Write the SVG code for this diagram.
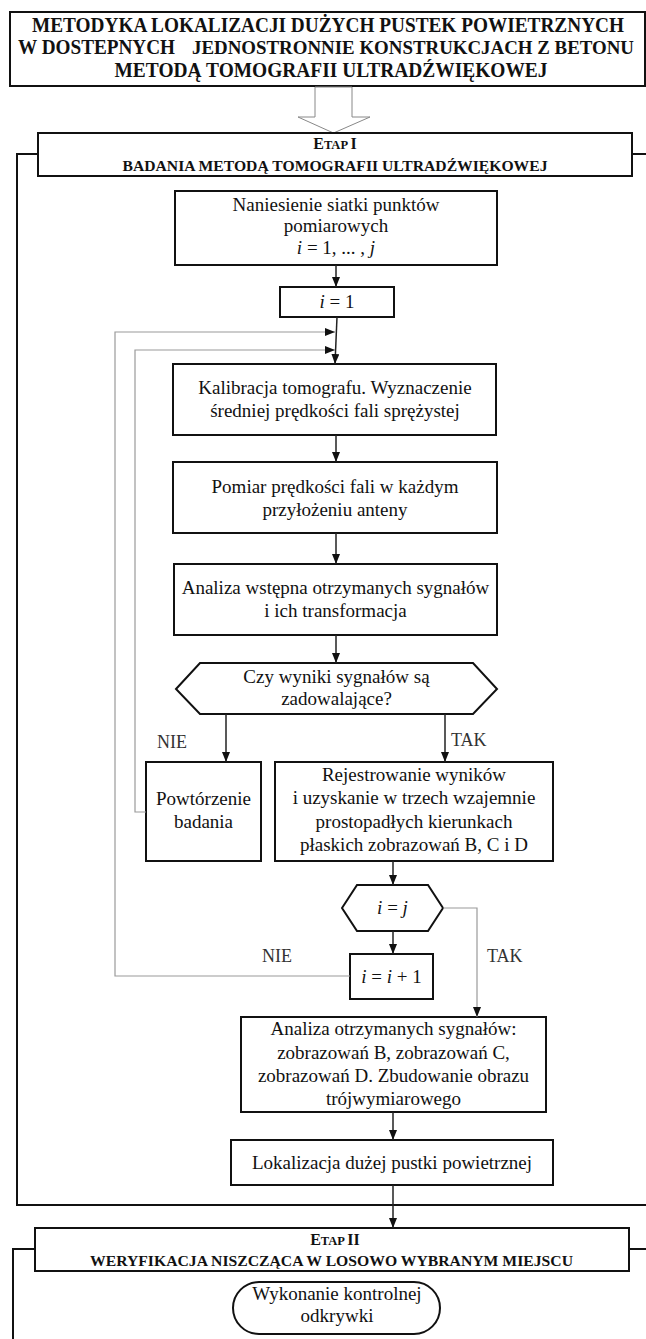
<svg xmlns="http://www.w3.org/2000/svg" width="646" height="1339" viewBox="0 0 646 1339">
<style>
.box{fill:#fff;stroke:#111;stroke-width:2}
.frame{fill:none;stroke:#111;stroke-width:2}
.t{font-family:"Liberation Serif","Times New Roman",serif;font-size:19px;fill:#111;text-anchor:middle}
.h{font-family:"Liberation Serif","Times New Roman",serif;font-weight:bold;fill:#111;text-anchor:middle}
.hs{font-family:"Liberation Serif","Times New Roman",serif;font-weight:bold;fill:#111;text-anchor:start}
.lab{font-family:"Liberation Serif","Times New Roman",serif;font-size:18px;fill:#333;text-anchor:start}
.c{fill:none;stroke:#222;stroke-width:1.5}
.g{fill:none;stroke:#9a9a9a;stroke-width:1.2}
.it{font-style:italic}
</style>
<defs>
<marker id="arr" markerUnits="userSpaceOnUse" markerWidth="10" markerHeight="8" refX="10" refY="4" orient="auto">
<path d="M0,0 L10,4 L0,8 z" fill="#111"/>
</marker>
</defs>
<rect width="646" height="1339" fill="#fff"/>

<g id="frames">
<path class="frame" d="M38,154 H17 V1205 H648"/>
<path class="frame" d="M632,154 H648"/>
<path class="frame" d="M35,1249 H13 V1341"/>
<path class="frame" d="M629,1249 H648"/>
</g>

<g id="title">
<rect class="box" x="10" y="12" width="635" height="74"/>
<text class="h" x="328" y="32" font-size="20" textLength="592" lengthAdjust="spacingAndGlyphs">METODYKA LOKALIZACJI DUŻYCH PUSTEK POWIETRZNYCH</text>
<text class="hs" x="18" y="54" font-size="20" textLength="157" lengthAdjust="spacingAndGlyphs">W DOSTEPNYCH</text>
<text class="hs" x="192" y="54" font-size="18.8" textLength="442" lengthAdjust="spacingAndGlyphs">JEDNOSTRONNIE KONSTRUKCJACH Z BETONU</text>
<text class="h" x="331" y="77" font-size="20" textLength="433" lengthAdjust="spacingAndGlyphs">METODĄ TOMOGRAFII ULTRADŹWIĘKOWEJ</text>
</g>

<g id="hollow-arrow">
<polygon points="315,87 315,117 298,117 333.5,133 370,117 352,117 352,87" fill="#fff" stroke="#888" stroke-width="1"/>
</g>

<g id="etap1">
<rect class="box" x="38" y="133" width="594" height="43"/>
<text class="h" x="335" y="149"><tspan font-size="16">E</tspan><tspan font-size="12.5">TAP </tspan><tspan font-size="16">I</tspan></text>
<text class="h" x="335" y="171" font-size="14" textLength="425" lengthAdjust="spacingAndGlyphs">BADANIA METODĄ TOMOGRAFII ULTRADŹWIĘKOWEJ</text>
</g>

<g id="naniesienie">
<rect class="box" x="175" y="191" width="322" height="74"/>
<text class="t" x="336" y="211">Naniesienie siatki punktów</text>
<text class="t" x="336" y="232">pomiarowych</text>
<text class="t" x="336" y="254"><tspan class="it">i</tspan> = 1, ... , <tspan class="it">j</tspan></text>
</g>

<g id="i1">
<rect class="box" x="280" y="287" width="114" height="30"/>
<text class="t" x="337" y="308"><tspan class="it">i</tspan> = 1</text>
</g>

<g id="kalibracja">
<rect class="box" x="173" y="364" width="323" height="71"/>
<text class="t" x="335" y="394">Kalibracja tomografu. Wyznaczenie</text>
<text class="t" x="335" y="417">średniej prędkości fali sprężystej</text>
</g>

<g id="pomiar">
<rect class="box" x="173" y="462" width="324" height="71"/>
<text class="t" x="335" y="493">Pomiar prędkości fali w każdym</text>
<text class="t" x="335" y="516">przyłożeniu anteny</text>
</g>

<g id="analiza-wstepna">
<rect class="box" x="174" y="564" width="323" height="71"/>
<text class="t" x="335.5" y="594">Analiza wstępna otrzymanych sygnałów</text>
<text class="t" x="335.5" y="617">i ich transformacja</text>
</g>

<g id="czy-wyniki">
<polygon class="box" points="176,689 200,663 473,663 497,689 473,714 200,714"/>
<text class="t" x="336.5" y="683">Czy wyniki sygnałów są</text>
<text class="t" x="336.5" y="705">zadowalające?</text>
</g>

<g id="powtorzenie">
<rect class="box" x="146" y="762" width="115" height="99"/>
<text class="t" x="203.5" y="805">Powtórzenie</text>
<text class="t" x="203.5" y="828">badania</text>
</g>

<g id="rejestrowanie">
<rect class="box" x="275" y="762" width="278" height="99"/>
<text class="t" x="414" y="781">Rejestrowanie wyników</text>
<text class="t" x="414" y="804">i uzyskanie w trzech wzajemnie</text>
<text class="t" x="414" y="828">prostopadłych kierunkach</text>
<text class="t" x="414" y="851">płaskich zobrazowań B, C i D</text>
</g>

<g id="i-eq-j">
<polygon class="box" points="342,908 357,885 428,885 443,908 428,931 357,931"/>
<text class="t" x="392.5" y="914"><tspan class="it">i</tspan> = <tspan class="it">j</tspan></text>
</g>

<g id="i-inc">
<rect class="box" x="350" y="954" width="83" height="45"/>
<text class="t" x="391.5" y="983"><tspan class="it">i</tspan> = <tspan class="it">i</tspan> + 1</text>
</g>

<g id="analiza-otrzymanych">
<rect class="box" x="241" y="1017" width="305" height="95"/>
<text class="t" x="393.5" y="1035">Analiza otrzymanych sygnałów:</text>
<text class="t" x="393.5" y="1059">zobrazowań B, zobrazowań C,</text>
<text class="t" x="393.5" y="1082">zobrazowań D. Zbudowanie obrazu</text>
<text class="t" x="393.5" y="1105">trójwymiarowego</text>
</g>

<g id="lokalizacja">
<rect class="box" x="231" y="1140" width="322" height="45"/>
<text class="t" x="392" y="1169">Lokalizacja dużej pustki powietrznej</text>
</g>

<g id="etap2">
<rect class="box" x="35" y="1228" width="594" height="43"/>
<text class="h" x="335" y="1245"><tspan font-size="16">E</tspan><tspan font-size="12.5">TAP </tspan><tspan font-size="16">II</tspan></text>
<text class="h" x="331.5" y="1266" font-size="14" textLength="483" lengthAdjust="spacingAndGlyphs">WERYFIKACJA NISZCZĄCA W LOSOWO WYBRANYM MIEJSCU</text>
</g>

<g id="wykonanie">
<rect class="box" x="233" y="1282" width="207" height="52" rx="26" ry="26"/>
<text class="t" x="337" y="1300">Wykonanie kontrolnej</text>
<text class="t" x="337" y="1322">odkrywki</text>
</g>

<g id="connectors">
<path class="c" d="M336,265 V287" marker-end="url(#arr)"/>
<path class="c" d="M337,317 L335,364" marker-end="url(#arr)"/>
<path class="c" d="M336,435 V462" marker-end="url(#arr)"/>
<path class="c" d="M336,533 V564" marker-end="url(#arr)"/>
<path class="c" d="M336,635 V663" marker-end="url(#arr)"/>
<path class="c" d="M226,714 V762" marker-end="url(#arr)"/>
<path class="c" d="M445,714 V762" marker-end="url(#arr)"/>
<path class="c" d="M393,861 V885" marker-end="url(#arr)"/>
<path class="c" d="M393,931 V954" marker-end="url(#arr)"/>
<path class="g" d="M443,908 H477 V1017" marker-end="url(#arr)"/>
<path class="c" d="M393,1112 V1140" marker-end="url(#arr)"/>
<path class="c" d="M393,1185 V1228" marker-end="url(#arr)"/>
<path class="g" d="M350,976 H115 V332 H335" marker-end="url(#arr)"/>
<path class="g" d="M146,812 H135 V350 H335" marker-end="url(#arr)"/>
<text class="lab" x="157" y="748">NIE</text>
<text class="lab" x="451" y="746">TAK</text>
<text class="lab" x="262" y="962">NIE</text>
<text class="lab" x="487" y="962">TAK</text>
</g>
</svg>
